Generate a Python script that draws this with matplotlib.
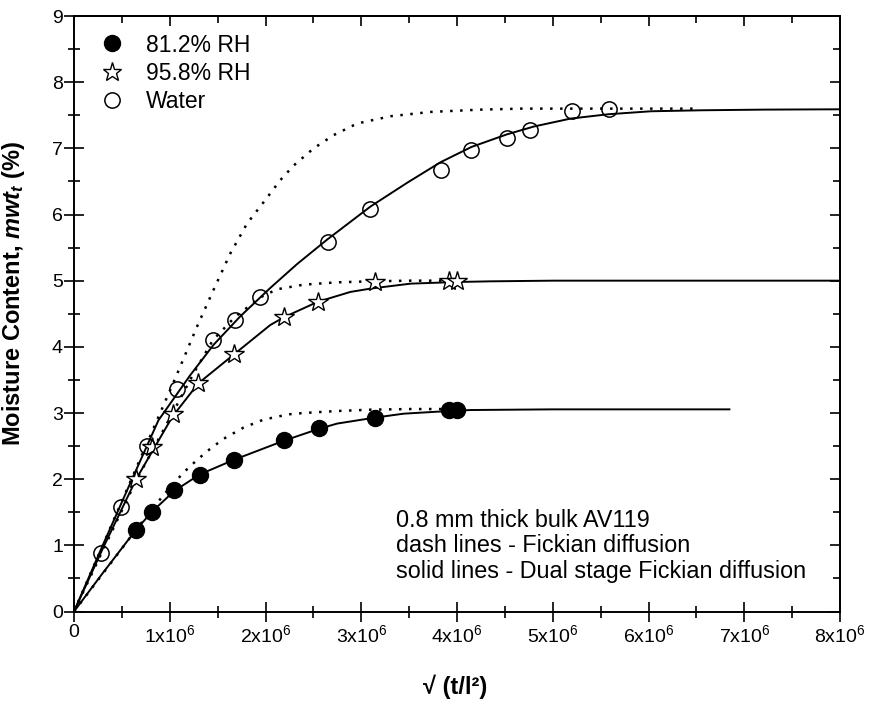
import matplotlib
matplotlib.use('Agg')
import matplotlib.pyplot as plt
from matplotlib.ticker import MultipleLocator
from matplotlib.lines import Line2D

plt.rcParams['font.family'] = ['Liberation Sans', 'DejaVu Sans']
plt.rcParams['mathtext.fontset'] = 'custom'
plt.rcParams['mathtext.rm'] = 'Liberation Sans'
plt.rcParams['mathtext.it'] = 'Liberation Sans:italic'
plt.rcParams['mathtext.bf'] = 'Liberation Sans:bold'
plt.rcParams['mathtext.bfit'] = 'Liberation Sans:bold:italic'

SCALE = 1e6  # x values below are in units of 1x10^6

# ---- measured data ----
rh81_x = [0.645, 0.816, 1.046, 1.311, 1.666, 2.193, 2.556, 3.141, 3.915, 4.003]
rh81_y = [1.23, 1.51, 1.83, 2.07, 2.29, 2.59, 2.78, 2.93, 3.05, 3.05]

rh96_x = [0.649, 0.816, 1.030, 1.300, 1.666, 2.197, 2.545, 3.141, 3.915, 3.996]
rh96_y = [2.00, 2.48, 2.99, 3.46, 3.89, 4.45, 4.68, 4.98, 4.99, 4.99]

water_x = [0.279, 0.492, 0.760, 1.074, 1.451, 1.677, 1.946, 2.650, 3.096,
           3.828, 4.149, 4.519, 4.767, 5.196, 5.589]
water_y = [0.89, 1.58, 2.50, 3.37, 4.10, 4.41, 4.75, 5.58, 6.09,
           6.68, 6.97, 7.16, 7.28, 7.56, 7.59]

# ---- Fickian (dotted) curves ----
fick81_x = [0, 0.3, 0.645, 0.816, 1.0, 1.1, 1.2, 1.388, 1.562, 1.771, 1.98,
            2.242, 2.398, 2.748, 3.096, 3.5, 4.0]
fick81_y = [0, 0.57, 1.23, 1.55, 1.87, 2.03, 2.18, 2.42, 2.61, 2.78, 2.90,
            2.98, 3.00, 3.03, 3.05, 3.06, 3.06]

fick96_x = [0, 0.3, 0.65, 1.03, 1.25, 1.45, 1.68, 1.95, 2.12, 2.4, 2.75,
            3.1, 3.5, 4.0]
fick96_y = [0, 0.92, 1.98, 3.0, 3.6, 4.1, 4.45, 4.75, 4.87, 4.94, 4.975,
            4.99, 5.0, 5.0]

fickw_x = [0, 0.3, 0.6, 0.9, 1.074, 1.283, 1.457, 1.632, 1.806, 1.998, 2.155,
           2.294, 2.503, 2.712, 2.957, 3.305, 3.724, 4.247, 4.665, 5.5, 6.5]
fickw_y = [0, 1.0, 2.0, 3.0, 3.58, 4.30, 4.86, 5.41, 5.86, 6.22, 6.52,
           6.74, 7.00, 7.20, 7.375, 7.485, 7.55, 7.585, 7.60, 7.60, 7.60]

# ---- Dual stage Fickian (solid) curves ----
dual81_x = [0, 0.3, 0.645, 0.816, 1.046, 1.311, 1.666, 2.19, 2.556, 2.748,
            3.141, 3.445, 3.915, 4.142, 5.0, 6.0, 6.845]
dual81_y = [0, 0.58, 1.23, 1.51, 1.82, 2.07, 2.29, 2.58, 2.76, 2.84,
            2.93, 2.99, 3.03, 3.045, 3.055, 3.055, 3.055]

dual96_x = [0, 0.3, 0.649, 1.03, 1.30, 1.666, 2.05, 2.197, 2.545, 2.887,
            3.096, 3.515, 4.003, 4.35, 5.0, 6.0, 7.0, 8.0]
dual96_y = [0, 0.95, 2.0, 2.95, 3.45, 3.88, 4.33, 4.45, 4.68, 4.83,
            4.88, 4.955, 4.98, 4.99, 5.0, 5.0, 5.0, 5.0]

dualw_x = [0, 0.3, 0.6, 0.882, 1.213, 1.457, 1.736, 2.050, 2.329, 2.643,
           3.096, 3.48, 3.828, 4.15, 4.519, 4.804, 5.188, 5.578, 6.025,
           6.548, 7.2, 8.0]
dualw_y = [0, 1.0, 1.98, 2.89, 3.57, 4.03, 4.46, 4.89, 5.25, 5.62,
           6.12, 6.48, 6.79, 7.02, 7.21, 7.33, 7.45, 7.515, 7.56,
           7.575, 7.585, 7.59]

xtick_vals = [0, 1, 2, 3, 4, 5, 6, 7, 8]
xtick_labels = ['0'] + [r'%dx10$^{6}$' % v for v in xtick_vals[1:]]
ytick_vals = [0, 1, 2, 3, 4, 5, 6, 7, 8, 9]

legend_labels = ['81.2% RH', '95.8% RH', 'Water']
note_lines = ['0.8 mm thick bulk AV119',
              'dash lines - Fickian diffusion',
              'solid lines - Dual stage Fickian diffusion']
note_y = [1.38, 0.99, 0.60]
note_x = 3.36


def sx(v):
    return [a * SCALE for a in v]


fig = plt.figure(figsize=(8.74, 7.06), dpi=100)
ax = fig.add_axes([74 / 874, 1 - 611.5 / 706, (840 - 74) / 874, (611.5 - 16) / 706])

dot = (0, (1, 3))
lw_d = 1.8
lw_s = 1.4
ax.plot(sx(fick81_x), fick81_y, color='black', lw=lw_d, ls=dot)
ax.plot(sx(fick96_x), fick96_y, color='black', lw=lw_d, ls=dot)
ax.plot(sx(fickw_x), fickw_y, color='black', lw=lw_d, ls=dot)
ax.plot(sx(dual81_x), dual81_y, color='black', lw=lw_s)
ax.plot(sx(dual96_x), dual96_y, color='black', lw=lw_s)
ax.plot(sx(dualw_x), dualw_y, color='black', lw=lw_s)

ax.plot(sx(rh81_x), rh81_y, ls='none', marker='o', ms=11.5, mfc='black', mec='black', zorder=5)
ax.plot(sx(rh96_x), rh96_y, ls='none', marker='*', ms=15, mfc='white', mec='black', mew=1.0, zorder=5)
ax.plot(sx(water_x), water_y, ls='none', marker='o', ms=11, mfc='none', mec='black', mew=1.1, zorder=5)

ax.set_xlim(0, 8 * SCALE)
ax.set_ylim(0, 9)
ax.set_xticks([v * SCALE for v in xtick_vals])
ax.set_xticklabels(xtick_labels)
ax.set_yticks(ytick_vals)
ax.xaxis.set_minor_locator(MultipleLocator(0.5 * SCALE))
ax.yaxis.set_minor_locator(MultipleLocator(0.5))
ax.tick_params(which='major', direction='inout', length=14, width=1.2, labelsize=14,
               pad=2, top=False, right=False)
ax.tick_params(axis='y', which='major', pad=1)
ax.tick_params(which='minor', direction='inout', length=9, width=1.2, top=False, right=False)
for s in ax.spines.values():
    s.set_linewidth(1.4)

secx = ax.secondary_xaxis('top')
secx.set_xticks([v * SCALE for v in xtick_vals])
secx.xaxis.set_minor_locator(MultipleLocator(0.5 * SCALE))
secx.tick_params(which='major', direction='in', length=7, width=1.2, labeltop=False)
secx.tick_params(which='minor', direction='in', length=5, width=1.2)
secx.spines['top'].set_linewidth(1.4)
secy = ax.secondary_yaxis('right')
secy.set_yticks(ytick_vals)
secy.yaxis.set_minor_locator(MultipleLocator(0.5))
secy.tick_params(which='major', direction='in', length=7, width=1.2, labelright=False)
secy.tick_params(which='minor', direction='in', length=5, width=1.2)
secy.spines['right'].set_linewidth(1.4)

ax.set_ylabel(r'Moisture Content, $\mathbfit{mwt_t}$ (%)', fontsize=17, fontweight='bold')
ax.yaxis.set_label_coords(-0.0614, 0.535)
ax.set_xlabel('√ (t/l²)', fontsize=17, fontweight='bold')
ax.xaxis.set_label_coords(0.497, -0.1066)

handles = [
    Line2D([], [], ls='none', marker='o', ms=11.5, mfc='black', mec='black'),
    Line2D([], [], ls='none', marker='*', ms=14, mfc='white', mec='black', mew=1.0),
    Line2D([], [], ls='none', marker='o', ms=11, mfc='none', mec='black', mew=1.1),
]
ax.legend(handles, legend_labels, loc='upper left', bbox_to_anchor=(0.0226, 0.986),
          frameon=False, fontsize=16.5, handlelength=1.0, handletextpad=0.98,
          labelspacing=0.22, borderaxespad=0)

for yy, line in zip(note_y, note_lines):
    ax.text(note_x * SCALE, yy, line, fontsize=16.8, va='center', ha='left')

fig.savefig('out.png', dpi=100)
